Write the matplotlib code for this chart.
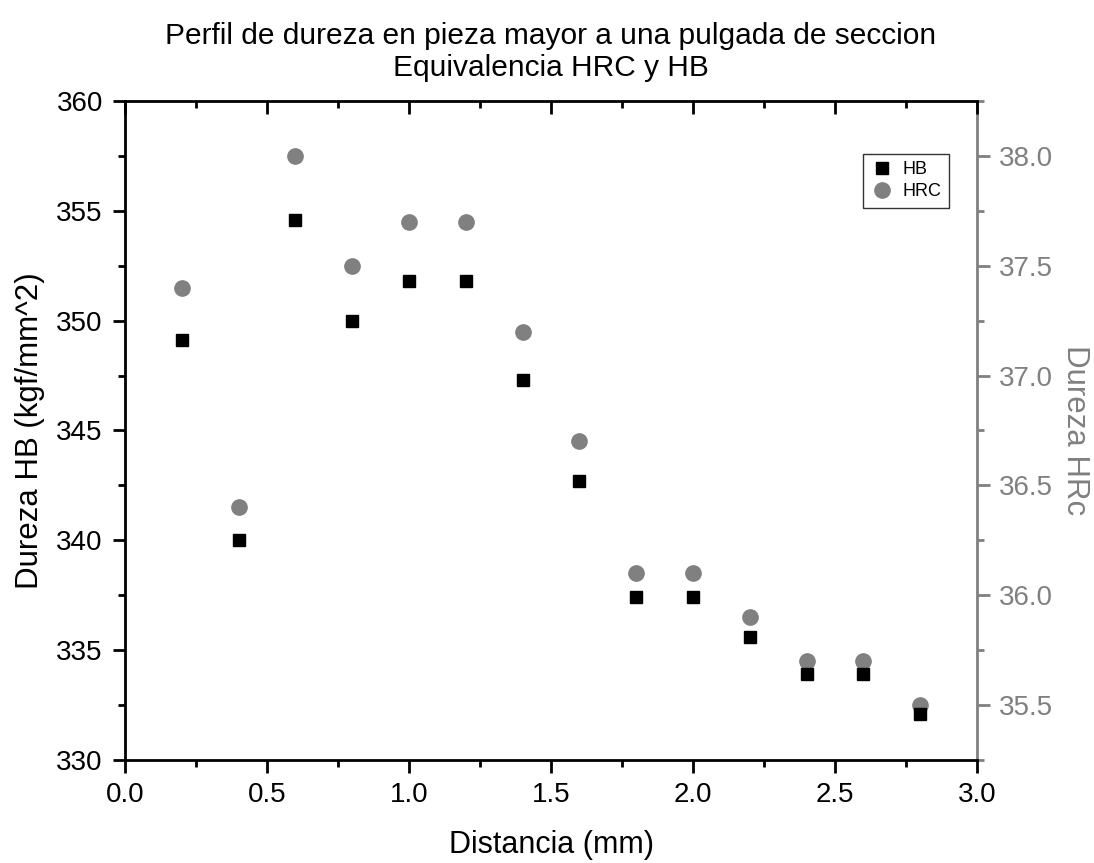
import matplotlib
matplotlib.use("Agg")
import matplotlib.pyplot as plt
from matplotlib.ticker import MultipleLocator

plt.rcParams['font.family'] = ['Liberation Sans', 'DejaVu Sans']

distancia = [0.2, 0.4, 0.6, 0.8, 1.0, 1.2, 1.4, 1.6, 1.8, 2.0, 2.2, 2.4, 2.6, 2.8]
hb = [349.1, 340.0, 354.6, 350.0, 351.8, 351.8, 347.3, 342.7, 337.4, 337.4, 335.6, 333.9, 333.9, 332.1]
hrc = [37.4, 36.4, 38.0, 37.5, 37.7, 37.7, 37.2, 36.7, 36.1, 36.1, 35.9, 35.7, 35.7, 35.5]

gray = '#808080'

fig = plt.figure(figsize=(10.94, 8.63), dpi=100)
ax = fig.add_axes([0.1143, 0.1194, 0.7788, 0.7636])
ax2 = ax.twinx()

h1, = ax.plot(distancia, hb, 's', color='black', markersize=8, label='HB', zorder=3)
h2, = ax2.plot(distancia, hrc, 'o', color=gray, markersize=11, label='HRC', zorder=2)
ax.set_zorder(ax2.get_zorder() + 1)
ax.patch.set_visible(False)

ax.set_xlim(0, 3.0)
ax.set_ylim(330, 360)
ax2.set_ylim(35.25, 38.25)

ax.xaxis.set_major_locator(MultipleLocator(0.5))
ax.xaxis.set_minor_locator(MultipleLocator(0.25))
ax.yaxis.set_major_locator(MultipleLocator(5))
ax.yaxis.set_minor_locator(MultipleLocator(2.5))
ax2.yaxis.set_major_locator(MultipleLocator(0.5))
ax2.yaxis.set_minor_locator(MultipleLocator(0.25))

ax.xaxis.set_major_formatter(plt.FuncFormatter(lambda v, p: f"{v:.1f}"))
ax2.yaxis.set_major_formatter(plt.FuncFormatter(lambda v, p: f"{v:.1f}"))

for s in ['left', 'bottom', 'top']:
    ax.spines[s].set_linewidth(2)
    ax.spines[s].set_color('black')
ax.spines['right'].set_visible(False)
for s in ['left', 'bottom', 'top']:
    ax2.spines[s].set_visible(False)
ax2.spines['right'].set_color(gray)
ax2.spines['right'].set_linewidth(2)

ax.tick_params(axis='both', which='major', direction='out', length=9, width=2,
               labelsize=20, pad=7, top=False)
ax.tick_params(axis='both', which='minor', direction='out', length=5, width=2, top=False)
ax.tick_params(axis='y', which='both', right=False)

# top axis: inward ticks, no labels
sec = ax.secondary_xaxis('top')
sec.xaxis.set_major_locator(MultipleLocator(0.5))
sec.xaxis.set_minor_locator(MultipleLocator(0.25))
sec.tick_params(axis='x', which='major', direction='in', length=9, width=2, labeltop=False)
sec.tick_params(axis='x', which='minor', direction='in', length=5, width=2)
sec.spines['top'].set_visible(False)

ax2.tick_params(axis='y', which='major', direction='out', length=9, width=2,
                colors=gray, labelsize=20, pad=7)
ax2.tick_params(axis='y', which='minor', direction='out', length=5, width=2, colors=gray)

ax.set_xlabel('Distancia (mm)', fontsize=22, labelpad=16)
ax.set_ylabel('Dureza HB (kgf/mm^2)', fontsize=22.5, labelpad=8)
ax2.set_ylabel('Dureza HRc', fontsize=22.5, color=gray, rotation=270, labelpad=26)

ax.set_title('Perfil de dureza en pieza mayor a una pulgada de seccion\nEquivalencia HRC y HB',
             fontsize=21.5, pad=18, linespacing=1.2)

leg = ax.legend(handles=[h1, h2], loc='upper right', bbox_to_anchor=(0.967, 0.92),
                fontsize=13, frameon=True, fancybox=False, borderpad=0.4,
                handletextpad=0.5, labelspacing=0.3, handlelength=1.3, borderaxespad=0)
leg.get_frame().set_edgecolor('black')
leg.get_frame().set_linewidth(1)

fig.savefig('out.png', dpi=100)
